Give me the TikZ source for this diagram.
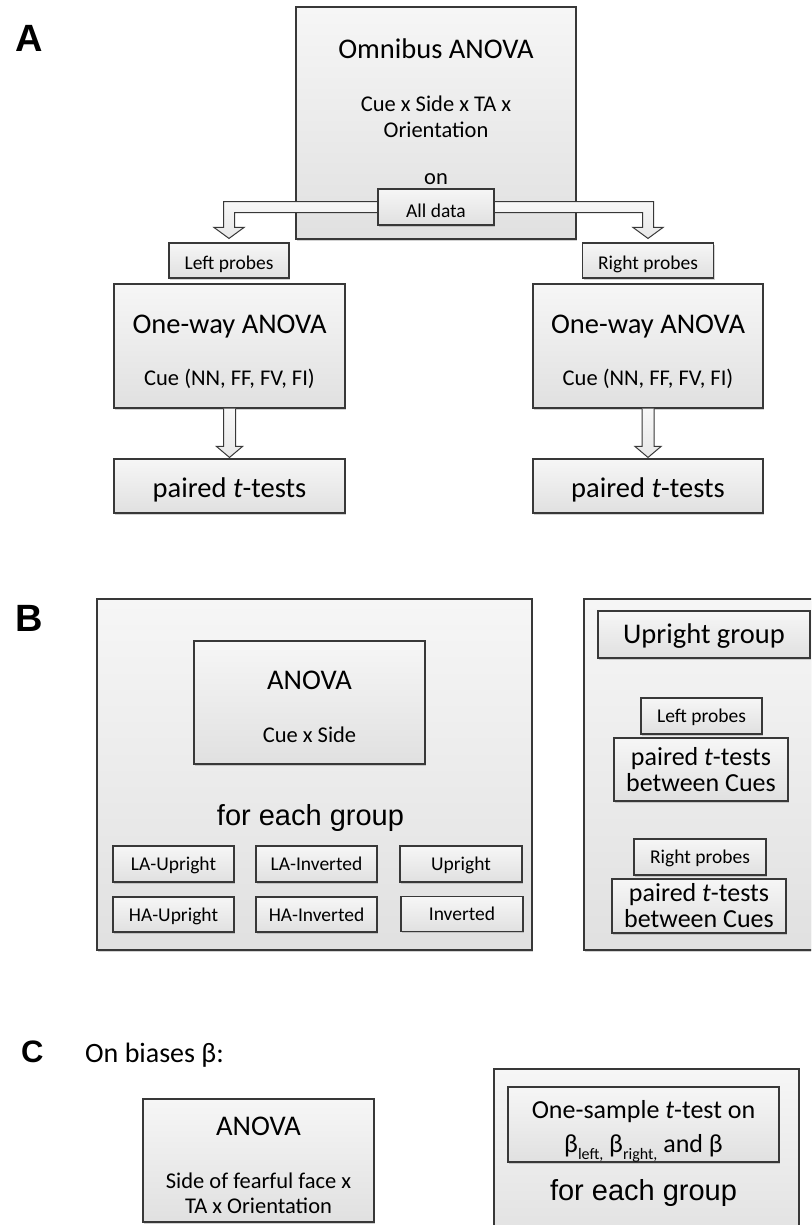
\documentclass[tikz,border=0pt]{standalone}
\usepackage{fontspec}
\setmainfont{Carlito}
\newfontfamily\arialf{Liberation Sans}
\usetikzlibrary{calc,shadows}
\tikzset{
  gbox/.style={rectangle, draw=black!78, line width=1.1pt, top color=gray!7, bottom color=gray!24, inner sep=0pt,
    drop shadow={shadow xshift=1pt, shadow yshift=-1.6pt, opacity=0.35}},
  barrow/.style={draw=black!78, line width=1pt, top color=gray!6, bottom color=gray!18, line join=miter},
  tXL/.style={font=\fontsize{28.5}{30}\selectfont, anchor=base, inner sep=0pt},
  tM/.style={font=\fontsize{22.5}{24}\selectfont, anchor=base, inner sep=0pt},
  tS/.style={font=\fontsize{19.5}{21}\selectfont, anchor=base, inner sep=0pt},
  tP/.style={font=\fontsize{26}{28}\selectfont, anchor=base, inner sep=0pt},
  tAr/.style={font=\arialf\fontsize{29}{31}\selectfont, anchor=base, inner sep=0pt},
  plabel/.style={font=\arialf\bfseries\fontsize{38}{40}\selectfont, anchor=base west, inner sep=0pt},
}
\begin{document}
\begin{tikzpicture}[x=1pt,y=-1pt]
\clip (0,0) rectangle (811,1225);
\fill[white] (0,0) rectangle (811,1225);

% ---------------- Panel A ----------------
\node[plabel] (labA) at (15,52) {A};
\node[gbox, minimum width=280pt, minimum height=232pt] (omni) at (436,123) {};
\node[tXL] (omniT) at (436,59) {Omnibus ANOVA};
\node[tM] (omniF1) at (436,112) {Cue x Side x TA x};
\node[tM] (omniF2) at (436,138) {Orientation};
\node[tM] (omniOn) at (436,185) {on};

\node[gbox, minimum width=120pt, minimum height=35pt] (lprobe) at (229,260.5) {};
\node[tS] (lprobeT) at (229,269) {Left probes};
\node[gbox, minimum width=131pt, minimum height=35pt] (rprobe) at (648,260.5) {};
\node[tS] (rprobeT) at (648,269) {Right probes};

% block arrows from "All data"
\coordinate (adw) at (378,207);
\coordinate (ade) at (494,207);
\draw[barrow] ($(adw)+(0,-5.5)$) -- ($(adw -| lprobe.north)+(-5.5,-5.5)$) -- ($(lprobe.north)+(-5.5,-15)$)
  -- ($(lprobe.north)+(-15,-15)$) -- ($(lprobe.north)+(0,-4)$) -- ($(lprobe.north)+(15,-15)$)
  -- ($(lprobe.north)+(5.5,-15)$) -- ($(adw -| lprobe.north)+(5.5,5.5)$) -- ($(adw)+(0,5.5)$) -- cycle;
\draw[barrow] ($(ade)+(0,-5.5)$) -- ($(ade -| rprobe.north)+(5.5,-5.5)$) -- ($(rprobe.north)+(5.5,-15)$)
  -- ($(rprobe.north)+(15,-15)$) -- ($(rprobe.north)+(0,-4)$) -- ($(rprobe.north)+(-15,-15)$)
  -- ($(rprobe.north)+(-5.5,-15)$) -- ($(ade -| rprobe.north)+(-5.5,5.5)$) -- ($(ade)+(0,5.5)$) -- cycle;

\node[gbox, minimum width=116pt, minimum height=36pt] (alldata) at (436,207) {};
\node[tS] (alldataT) at (436,217) {All data};

\node[gbox, minimum width=231pt, minimum height=124pt] (owL) at (229.5,346) {};
\node[tXL] (owLT) at (229.5,333) {One-way ANOVA};
\node[tM] (owLF) at (229.5,385) {Cue (NN, FF, FV, FI)};
\node[gbox, minimum width=230pt, minimum height=124pt] (owR) at (648,346) {};
\node[tXL] (owRT) at (648,333) {One-way ANOVA};
\node[tM] (owRF) at (648,385) {Cue (NN, FF, FV, FI)};

\node[gbox, minimum width=231pt, minimum height=54pt] (ptL) at (229.5,486) {};
\node[tXL] (ptLT) at (229.5,497) {paired \textit{t}-tests};
\node[gbox, minimum width=230pt, minimum height=54pt] (ptR) at (648,486) {};
\node[tXL] (ptRT) at (648,497) {paired \textit{t}-tests};

\draw[barrow] ($(owL.south)+(-6,0)$) -- ($(ptL.north)+(-6,-12)$) -- ($(ptL.north)+(-13,-12)$)
  -- ($(ptL.north)+(0,-1)$) -- ($(ptL.north)+(13,-12)$) -- ($(ptL.north)+(6,-12)$) -- ($(owL.south)+(6,0)$);
\draw[barrow] ($(owR.south)+(-6,0)$) -- ($(ptR.north)+(-6,-12)$) -- ($(ptR.north)+(-13,-12)$)
  -- ($(ptR.north)+(0,-1)$) -- ($(ptR.north)+(13,-12)$) -- ($(ptR.north)+(6,-12)$) -- ($(owR.south)+(6,0)$);

% ---------------- Panel B ----------------
\node[plabel] (labB) at (15,631) {B};
\node[gbox, minimum width=435pt, minimum height=351pt] (bbig) at (314.5,774.5) {};
\node[gbox, minimum width=231pt, minimum height=123pt] (banova) at (309.5,702.5) {};
\node[tXL] (banovaT) at (309.5,689) {ANOVA};
\node[tM] (banovaF) at (309.5,742) {Cue x Side};
\node[tAr] (beach) at (310.5,825) {for each group};

\node[gbox, minimum width=121pt, minimum height=36pt] (g1) at (173.5,864) {};
\node[tS] (g1T) at (173.5,870) {LA-Upright};
\node[gbox, minimum width=121pt, minimum height=36pt] (g2) at (316.5,864) {};
\node[tS] (g2T) at (316.5,870) {LA-Inverted};
\node[gbox, minimum width=122pt, minimum height=36pt] (g3) at (461,864) {};
\node[tS] (g3T) at (461,870) {Upright};
\node[gbox, minimum width=121pt, minimum height=35pt] (g4) at (173.5,914.5) {};
\node[tS] (g4T) at (173.5,921) {HA-Upright};
\node[gbox, minimum width=121pt, minimum height=35pt] (g5) at (316.5,914.5) {};
\node[tS] (g5T) at (316.5,921) {HA-Inverted};
\node[gbox, minimum width=122pt, minimum height=35pt] (g6) at (462,914) {};
\node[tS] (g6T) at (462,920.5) {Inverted};

\node[gbox, minimum width=246pt, minimum height=351pt] (bright) at (707,774.5) {};
\node[gbox, minimum width=212pt, minimum height=47pt] (upg) at (704,634.5) {};
\node[tXL] (upgT) at (704,643.5) {Upright group};
\node[gbox, minimum width=121pt, minimum height=36pt] (lp2) at (701.5,716) {};
\node[tS] (lp2T) at (701.5,722) {Left probes};
\node[gbox, minimum width=174pt, minimum height=63pt] (pt2a) at (701,769.5) {};
\node[tP] (pt2aT1) at (701,765) {paired \textit{t}-tests};
\node[tP] (pt2aT2) at (701,791) {between Cues};
\node[gbox, minimum width=132pt, minimum height=36pt] (rp2) at (700,857) {};
\node[tS] (rp2T) at (700,863) {Right probes};
\node[gbox, minimum width=174pt, minimum height=54pt] (pt2b) at (699,906) {};
\node[tP] (pt2bT1) at (699,901.5) {paired \textit{t}-tests};
\node[tP] (pt2bT2) at (699,927) {between Cues};

% ---------------- Panel C ----------------
\node[plabel, font=\arialf\bfseries\fontsize{31}{33}\selectfont] (labC) at (21,1062) {C};
\node[font=\fontsize{28}{30}\selectfont, anchor=base west, inner sep=0pt] (onb) at (85,1062) {On biases β:};
\node[gbox, minimum width=231pt, minimum height=123pt] (cano) at (258.5,1160.5) {};
\node[tXL] (canoT) at (258.5,1135) {ANOVA};
\node[tM] (canoF1) at (258.5,1188) {Side of fearful face x};
\node[tM] (canoF2) at (258.5,1213) {TA x Orientation};

\node[gbox, minimum width=305pt, minimum height=181pt] (cbig) at (646.5,1159.5) {};
\node[gbox, minimum width=271pt, minimum height=75pt] (cin) at (643.5,1124.5) {};
\node[tP] (cinT1) at (643.5,1118) {One-sample \textit{t}-test on};
\node[tP] (cinT2) at (643.5,1152) {β\raisebox{-0.28em}{\fontsize{16}{16}\selectfont left,} β\raisebox{-0.28em}{\fontsize{16}{16}\selectfont right,} and β};
\node[tAr] (ceach) at (643.5,1200) {for each group};
\end{tikzpicture}
\end{document}
